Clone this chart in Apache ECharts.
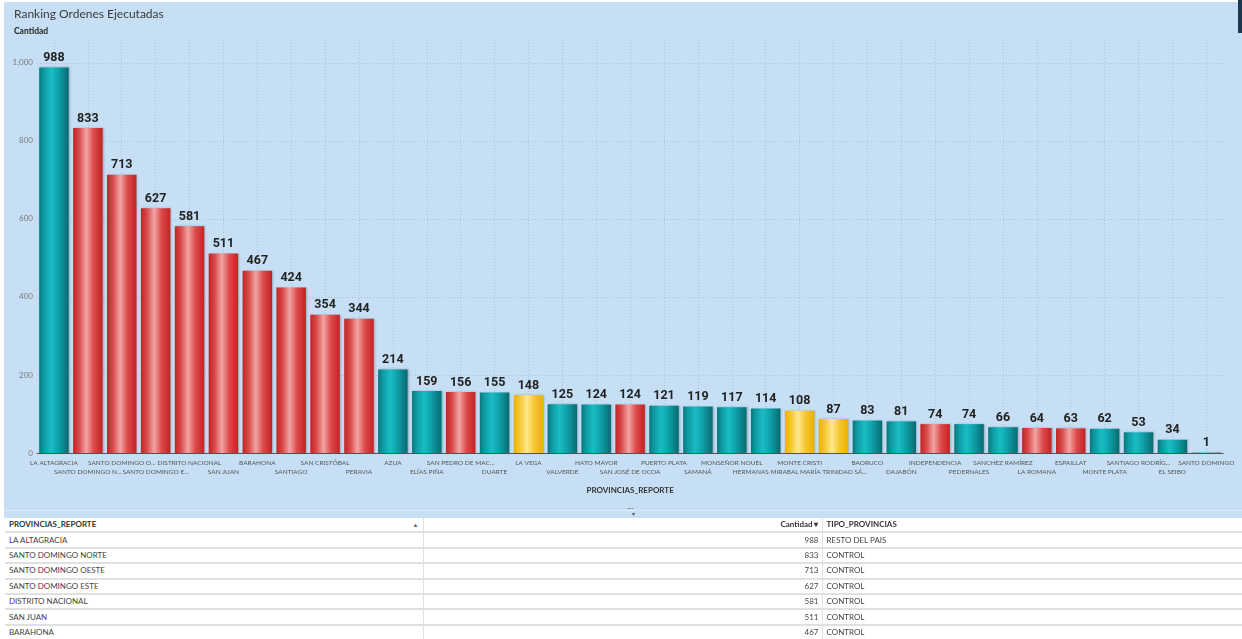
<!DOCTYPE html>
<html>
<head>
<meta charset="utf-8">
<script src="https://cdn.jsdelivr.net/npm/echarts@6/dist/echarts.min.js"></script>
<style>
  html, body { margin: 0; padding: 0; width: 1242px; height: 639px; overflow: hidden; background: #fff; font-family: Lato, "Noto Sans", sans-serif; }
  #panel { position: absolute; left: 4px; top: 2px; width: 1240px; height: 516px; background: #c6dff4; }
  #chart { position: absolute; left: 0; top: 0; width: 1240px; height: 508px; }
  #split { position: absolute; left: 0; top: 508px; width: 1240px; height: 1px; background: #dcebf8; }
  #handle { position: absolute; left: 623px; top: 503px; font-size: 6px; color: #555; line-height: 6px; }
  #corner { position: absolute; left: 1238px; top: 0; width: 4px; height: 33px; background: #1d3652; }
  #tbl { position: absolute; left: 5px; top: 518px; width: 1237px; height: 121px; overflow: hidden; }
  table { border-collapse: collapse; table-layout: fixed; width: 1237px; font-size: 8px; color: #444; }
  td, th { height: 13.4px; padding: 0 4px; border-bottom: 2px solid #e0e0e0; white-space: nowrap; overflow: hidden; line-height: 13px; }
  th { font-weight: bold; color: #333; text-align: left; }
  td.c1, th.c1 { border-right: 1px solid #e0e0e0; }
  td.c2, th.c2 { text-align: right; border-right: 1px solid #e0e0e0; padding-right: 3px; }
</style>
</head>
<body>
<div id="panel">
  <div id="chart"></div>
  <div id="split"></div>
  <div id="handle">····<br>&nbsp;&nbsp;&nbsp;▾</div>
</div>
<div id="corner"></div>
<div id="tbl"></div>
<script>
const categories = [
  'LA ALTAGRACIA','SANTO DOMINGO NORTE','SANTO DOMINGO OESTE','SANTO DOMINGO ESTE','DISTRITO NACIONAL',
  'SAN JUAN','BARAHONA','SANTIAGO','SAN CRISTÓBAL','PERAVIA','AZUA','ELÍAS PIÑA','SAN PEDRO DE MACORÍS',
  'DUARTE','LA VEGA','VALVERDE','HATO MAYOR','SAN JOSÉ DE OCOA','PUERTO PLATA','SAMANÁ','MONSEÑOR NOUEL',
  'HERMANAS MIRABAL','MONTE CRISTI','MARÍA TRINIDAD SÁNCHEZ','BAORUCO','DAJABÓN','INDEPENDENCIA',
  'PEDERNALES','SANCHEZ RAMÍREZ','LA ROMANA','ESPAILLAT','MONTE PLATA','SANTIAGO RODRÍGUEZ','EL SEIBO',
  'SANTO DOMINGO'
];
const cantidad = [988,833,713,627,581,511,467,424,354,344,214,159,156,155,148,125,124,124,121,119,117,114,108,87,83,81,74,74,66,64,63,62,53,34,1];
const tipo = [
  'RESTO DEL PAIS','CONTROL','CONTROL','CONTROL','CONTROL','CONTROL','CONTROL','CONTROL','CONTROL','CONTROL',
  'RESTO DEL PAIS','RESTO DEL PAIS','CONTROL','RESTO DEL PAIS','OTRO','RESTO DEL PAIS','RESTO DEL PAIS','CONTROL',
  'RESTO DEL PAIS','RESTO DEL PAIS','RESTO DEL PAIS','RESTO DEL PAIS','OTRO','OTRO','RESTO DEL PAIS','RESTO DEL PAIS',
  'CONTROL','RESTO DEL PAIS','RESTO DEL PAIS','CONTROL','CONTROL','RESTO DEL PAIS','RESTO DEL PAIS','RESTO DEL PAIS',
  'RESTO DEL PAIS'
];
const yTicks = [0, 200, 400, 600, 800, 1000];

function grad(stops) {
  return new echarts.graphic.LinearGradient(0, 0, 1, 0, stops.map(c => ({ offset: c[0], color: c[1] })));
}
const palette = {
  'RESTO DEL PAIS': grad([[0,'#0a767c'],[0.15,'#0e99a1'],[0.4,'#1abcc5'],[0.6,'#10a8b0'],[1,'#086a71']]),
  'CONTROL': grad([[0,'#c22424'],[0.2,'#d84848'],[0.45,'#f2a4a4'],[0.7,'#dc4a4a'],[1,'#c42222']]),
  'OTRO': grad([[0,'#eeb000'],[0.2,'#f4c630'],[0.45,'#fde88e'],[0.7,'#f6c630'],[1,'#eeaf00']])
};

const chart = echarts.init(document.getElementById('chart'), null, { renderer: 'canvas' });
const gridColor = 'rgba(110,135,160,0.32)';
chart.setOption({
  backgroundColor: 'transparent',
  animation: false,
  title: [
    { text: 'Ranking Ordenes Ejecutadas', left: 10, top: 6, padding: 0,
      textStyle: { fontFamily: 'Lato', fontSize: 12, fontWeight: 'normal', color: '#3a3a3a' } },
    { text: 'Cantidad', left: 10, top: 25, padding: 0,
      textStyle: { fontFamily: 'Lato', fontSize: 8.5, fontWeight: 'bold', color: '#222' } }
  ],
  grid: { left: 33, right: 0, top: 35, bottom: 57, containLabel: false },
  xAxis: {
    type: 'category',
    data: categories,
    name: 'PROVINCIAS_REPORTE',
    nameLocation: 'middle',
    nameGap: 33,
    nameTextStyle: { fontFamily: 'Lato', fontSize: 8, fontWeight: 'bold', color: '#333' },
    axisLine: { lineStyle: { color: '#555', width: 1 } },
    axisTick: { alignWithLabel: true, length: 4, lineStyle: { color: '#555' } },
    splitLine: { show: true, alignWithLabel: true, lineStyle: { type: [1, 2], color: gridColor, width: 1 } },
    axisLabel: {
      interval: 0, fontFamily: 'Lato', fontSize: 6.5, color: '#555', margin: 5, lineHeight: 9.5,
      width: 70, overflow: 'truncate', ellipsis: '...',
      formatter: (v, i) => (i % 2 === 1 ? '\n' : '') + v
    }
  },
  yAxis: {
    type: 'value', min: 0, max: 1066, interval: 200,
    axisLine: { show: false }, axisTick: { show: false },
    axisLabel: { showMaxLabel: false, fontFamily: 'Lato', fontSize: 8, color: '#7a7a7a', margin: 4,
      formatter: v => yTicks.includes(v) ? v.toLocaleString('en-US') : '' },
    splitLine: { lineStyle: { type: [1, 2], width: 1,
      color: [gridColor, gridColor, gridColor, gridColor, gridColor, gridColor, 'rgba(0,0,0,0)'] } }
  },
  series: [{
    type: 'bar',
    barCategoryGap: '13%',
    data: cantidad.map((v, i) => ({
      value: v,
      itemStyle: { color: palette[tipo[i]], shadowColor: 'rgba(40,60,80,0.3)', shadowBlur: 2, shadowOffsetX: 1, shadowOffsetY: 0 }
    })),
    label: {
      show: true, position: 'top', distance: 3,
      fontFamily: 'Roboto', fontSize: 12.5, fontWeight: 'bold', color: '#222'
    }
  }]
});

// table
let html = '<table><colgroup><col style="width:418px"><col style="width:399px"><col></colgroup>';
html += '<tr><th class="c1">PROVINCIAS_REPORTE<span style="float:right;font-size:6px;color:#666">▲</span></th>' +
        '<th class="c2">Cantidad ▾</th><th>TIPO_PROVINCIAS</th></tr>';
categories.forEach((c, i) => {
  html += '<tr><td class="c1">' + c + '</td><td class="c2">' + cantidad[i] + '</td><td>' + tipo[i] + '</td></tr>';
});
html += '</table>';
document.getElementById('tbl').innerHTML = html;
</script>
</body>
</html>
